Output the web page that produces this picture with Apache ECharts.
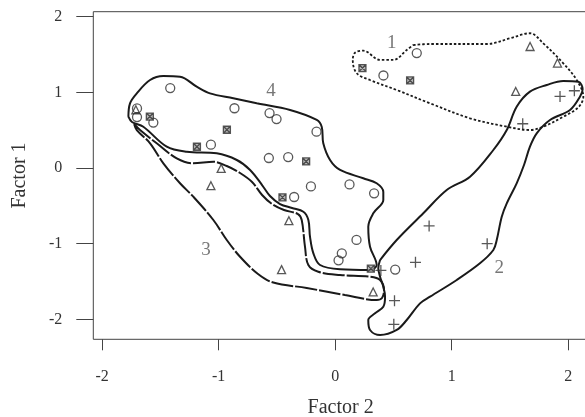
<!DOCTYPE html>
<html>
<head>
<meta charset="utf-8">
<script src="https://cdn.jsdelivr.net/npm/echarts@6/dist/echarts.min.js"></script>
<style>html,body{margin:0;padding:0;background:#fff}#c{width:585px;height:417px}</style>
</head>
<body>
<div id="c"></div>
<script>
const xTicks = [-2, -1, 0, 1, 2];
const yTicks = [-2, -1, 0, 1, 2];

const circles = [[-1.415,1.057],[-1.70,0.787],[-1.70,0.673],[-1.56,0.60],[-0.864,0.79],[-0.563,0.726],[-0.503,0.647],[-0.16,0.48],[-1.066,0.308],[-0.569,0.132],[-0.403,0.145],[-0.208,-0.243],[0.123,-0.217],[-0.352,-0.383],[0.334,-0.335],[0.183,-0.951],[0.057,-1.128],[0.029,-1.22],[0.515,-1.343],[0.70,1.519],[0.414,1.223]];
const triangles = [[-1.71,0.77],[-0.978,-0.005],[-1.066,-0.234],[-0.397,-0.696],[-0.46,-1.343],[0.326,-1.638],[1.672,1.606],[1.907,1.387],[1.549,1.012]];
const crossSquares = [[-1.59,0.68],[-0.929,0.506],[-1.186,0.281],[-0.249,0.087],[-0.452,-0.388],[0.306,-1.33],[0.234,1.321],[0.643,1.157]];
const pluses = [[0.392,-1.353],[0.689,-1.247],[0.806,-0.766],[1.304,-1.0],[0.509,-1.753],[0.503,-2.066],[1.929,0.946],[2.052,1.021],[1.609,0.585]];

const region1 = [[0.670,1.626],[0.814,1.639],[1.300,1.639],[1.500,1.714],[1.671,1.781],[1.785,1.648],[1.957,1.384],[2.072,1.163],[2.129,0.943],[2.086,0.802],[1.957,0.678],[1.785,0.546],[1.671,0.502],[1.472,0.546],[1.157,0.657],[0.814,0.855],[0.528,1.031],[0.299,1.163],[0.185,1.252],[0.151,1.428],[0.170,1.524],[0.241,1.551],[0.385,1.428],[0.499,1.428],[0.614,1.560]];
const region2 = [[0.385,-1.216],[0.528,-0.952],[0.756,-0.599],[0.957,-0.291],[1.157,-0.115],[1.357,0.238],[1.472,0.502],[1.557,0.810],[1.671,1.009],[1.815,1.097],[1.957,1.150],[2.086,1.141],[2.123,1.040],[2.100,0.943],[2.015,0.767],[1.843,0.635],[1.729,0.459],[1.671,0.282],[1.620,0.040],[1.557,-0.202],[1.472,-0.467],[1.429,-0.644],[1.386,-0.952],[1.357,-1.084],[1.242,-1.260],[1.043,-1.480],[0.814,-1.701],[0.728,-1.789],[0.614,-2.009],[0.528,-2.141],[0.385,-2.208],[0.299,-2.141],[0.284,-2.009],[0.342,-1.921],[0.413,-1.833],[0.428,-1.701],[0.413,-1.569],[0.385,-1.437],[0.370,-1.326]];
const region3 = [[-1.725,0.582],[-1.674,0.502],[-1.531,0.327],[-1.359,0.128],[-1.217,0.062],[-1.045,0.083],[-0.930,0.026],[-0.816,-0.066],[-0.713,-0.185],[-0.627,-0.357],[-0.542,-0.476],[-0.439,-0.555],[-0.319,-0.608],[-0.287,-0.687],[-0.259,-1.040],[-0.230,-1.282],[-0.145,-1.371],[0.042,-1.414],[0.299,-1.437],[0.385,-1.480],[0.419,-1.613],[0.402,-1.718],[0.356,-1.745],[0.084,-1.679],[-0.244,-1.586],[-0.531,-1.514],[-0.662,-1.401],[-0.816,-1.173],[-0.930,-0.952],[-1.045,-0.687],[-1.217,-0.379],[-1.331,-0.202],[-1.474,0.062],[-1.588,0.327],[-1.702,0.502]];
const region4 = [[-1.774,0.678],[-1.760,0.855],[-1.702,0.987],[-1.588,1.163],[-1.474,1.216],[-1.331,1.207],[-1.188,1.075],[-1.074,0.987],[-0.874,0.921],[-0.673,0.855],[-0.387,0.767],[-0.158,0.635],[-0.115,0.542],[-0.102,0.327],[-0.044,0.106],[0.042,-0.026],[0.241,-0.136],[0.356,-0.202],[0.413,-0.317],[0.413,-0.423],[0.327,-0.599],[0.284,-0.776],[0.299,-1.040],[0.356,-1.282],[0.299,-1.348],[0.042,-1.339],[-0.130,-1.282],[-0.187,-1.128],[-0.216,-0.908],[-0.230,-0.687],[-0.273,-0.578],[-0.370,-0.529],[-0.473,-0.476],[-0.559,-0.370],[-0.627,-0.225],[-0.730,-0.026],[-0.844,0.106],[-1.016,0.194],[-1.273,0.215],[-1.445,0.282],[-1.646,0.546],[-1.743,0.608]];

const regionLabels = [['1',0.485,1.656],['2',1.408,-1.326],['3',-1.108,-1.084],['4',-0.550,1.022]];

const serif = 'Liberation Serif';
const ink = '#333';

function closed(r){ return r.concat([r[0]]); }
function regionSeries(r, type, width){
  return {type:'line', data: closed(r), smooth:0.35, symbol:'none', silent:true, z:2,
    lineStyle:{color:'#1a1a1a', width:width, type:type}};
}
function pointSeries(d, symbol, size, fill){
  return {type:'scatter', data:d, symbol:symbol, symbolSize:size, symbolKeepAspect:true, silent:true, z:5,
    itemStyle:{color:fill, borderColor:'#2e2e2e', borderWidth:1.3}};
}

const chart = echarts.init(document.getElementById('c'), null, {renderer:'canvas'});
chart.setOption({
  animation:false,
  grid:{left:93.3, top:11.7, right:-3, bottom:77.7, show:true, borderColor:'#444', borderWidth:1,
    backgroundColor:'transparent', containLabel:false, outerBoundsMode:'none'},
  xAxis:{type:'value', min:-2.075, max:2.169,
    name:'Factor 2', nameLocation:'middle', nameGap:58,
    nameTextStyle:{fontFamily:serif, fontSize:20, color:ink},
    axisLine:{show:false, onZero:false}, splitLine:{show:false},
    axisTick:{show:true, length:11, customValues:xTicks, lineStyle:{color:'#444'}},
    axisLabel:{customValues:xTicks, margin:29, fontFamily:serif, fontSize:16, color:ink}},
  yAxis:{type:'value', min:-2.264, max:2.066,
    name:'Factor 1', nameLocation:'middle', nameGap:64,
    nameTextStyle:{fontFamily:serif, fontSize:20, color:ink},
    axisLine:{show:false, onZero:false}, splitLine:{show:false},
    axisTick:{show:true, length:17, customValues:yTicks, lineStyle:{color:'#444'}},
    axisLabel:{customValues:yTicks, margin:31, fontFamily:serif, fontSize:16, color:ink}},
  series:[
    regionSeries(region1, [2.5,2], 1.8),
    regionSeries(region2, 'solid', 2),
    regionSeries(region3, [22,2], 2),
    regionSeries(region4, 'solid', 2),
    pointSeries(circles, 'circle', 9, 'transparent'),
    pointSeries(triangles, 'triangle', 8, 'transparent'),
    pointSeries(crossSquares, 'path://M0,0H10V10H0Z M0,0L10,10 M10,0L0,10', 7, '#aaaaaa'),
    pointSeries(pluses, 'path://M5,0V10M0,5H10', 11, 'transparent'),
    {type:'scatter', data:regionLabels.map(l=>[l[1],l[2],l[0]]), symbolSize:0, silent:true, z:6,
      label:{show:true, position:'inside', formatter:p=>p.data[2], fontFamily:serif, fontSize:19, color:'#555'}}
  ]
});
</script>
</body>
</html>
